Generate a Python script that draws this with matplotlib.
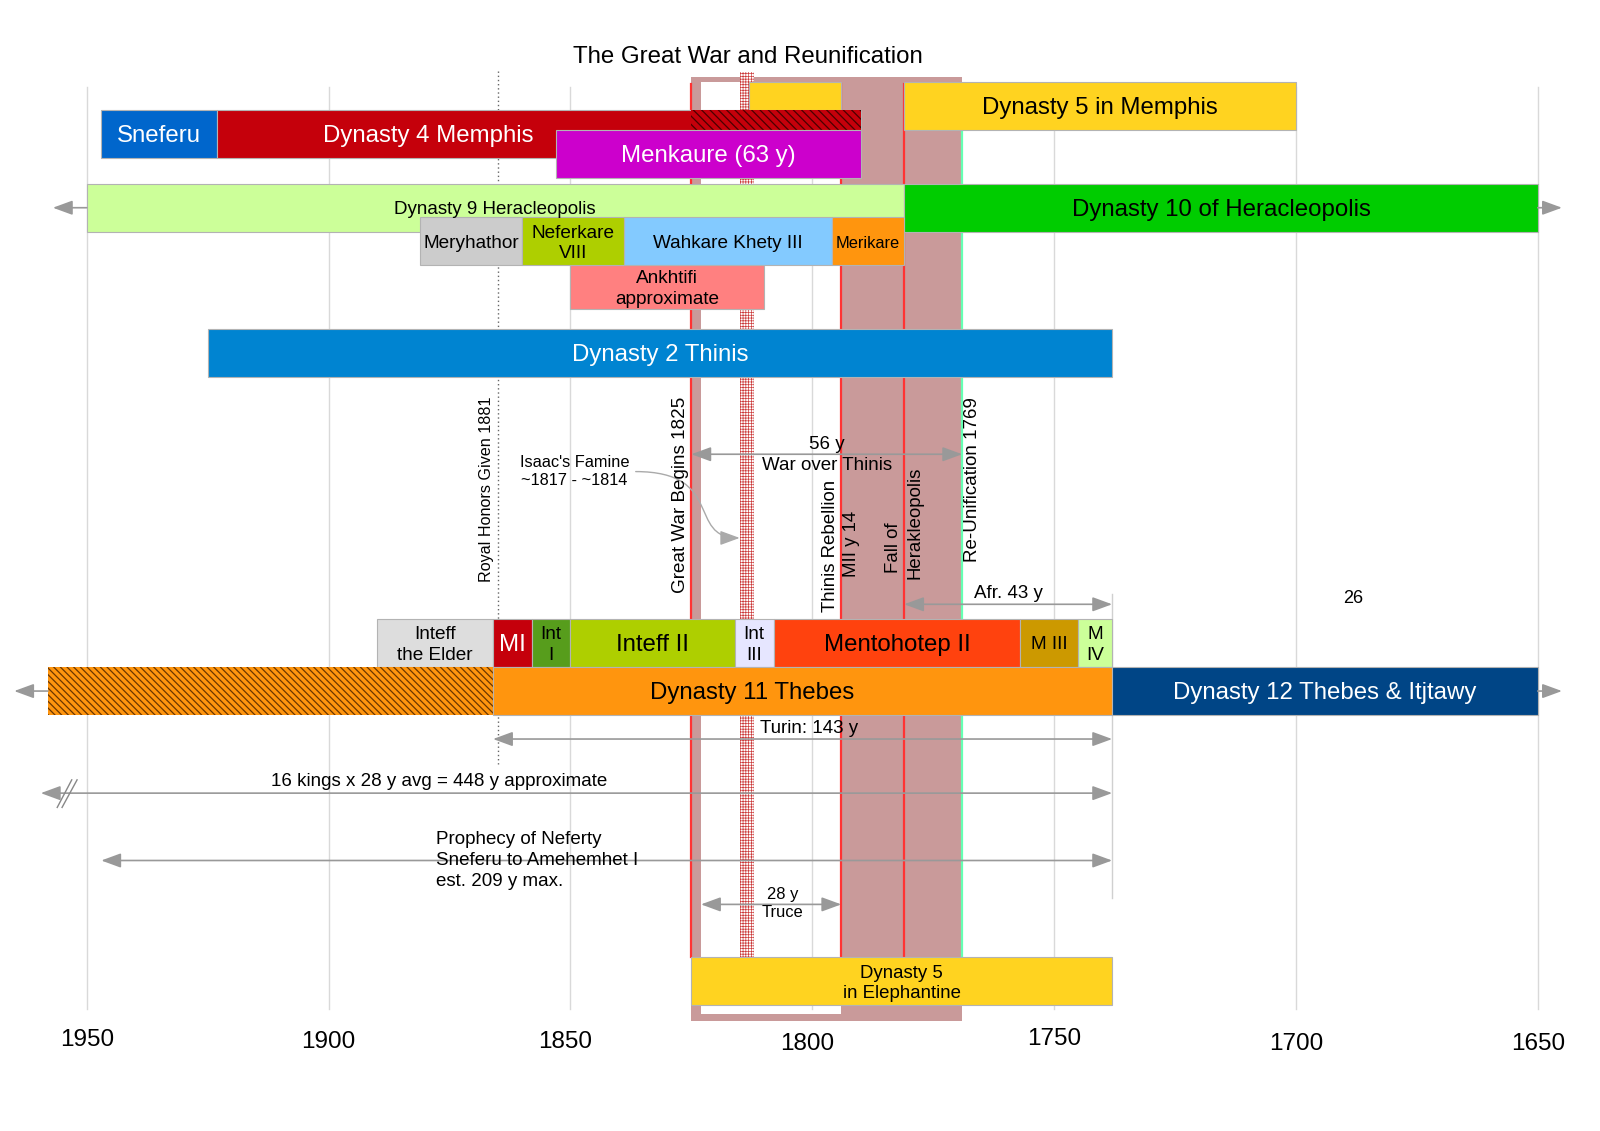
import matplotlib
matplotlib.use('Agg')
import matplotlib.pyplot as plt
from matplotlib.patches import Rectangle, FancyArrowPatch
from matplotlib.path import Path

plt.rcParams['font.family'] = ['Liberation Sans', 'DejaVu Sans']
plt.rcParams['hatch.linewidth'] = 0.9

# --- data (years BC, counted down to the right) ---
title = 'The Great War and Reunification'
tick_years = [1950, 1900, 1850, 1800, 1750, 1700, 1650]

top_names = ['', 'Dynasty 5 in Memphis']
top_from = [1813, 1781]
top_to = [1794, 1700]

d4_names = ['Sneferu', 'Dynasty 4 Memphis']
d4_from = [1947, 1923]
d4_to = [1923, 1790]
d4_hatch = (1825, 1790)

menkaure = ('Menkaure (63 y)', 1853, 1790)

d9_names = ['Dynasty 9 Heracleopolis', 'Dynasty 10 of Heracleopolis']
d9_from = [1950, 1781]
d9_to = [1781, 1650]

k9_names = ['Meryhathor', 'Neferkare\nVIII', 'Wahkare Khety III', 'Merikare']
k9_from = [1881, 1860, 1839, 1796]
k9_to = [1860, 1839, 1796, 1781]

ankhtifi = ('Ankhtifi\napproximate', 1850, 1810)
d2 = ('Dynasty 2 Thinis', 1925, 1738)

k11_names = ['Inteff\nthe Elder', 'MI', 'Int\nI', 'Inteff II', 'Int\nIII', 'Mentohotep II', 'M III', 'M\nIV']
k11_from = [1890, 1866, 1858, 1850, 1816, 1808, 1757, 1745]
k11_to = [1866, 1858, 1850, 1816, 1808, 1757, 1745, 1738]

d11_names = ['', 'Dynasty 11 Thebes', 'Dynasty 12 Thebes & Itjtawy']
d11_from = [1958, 1866, 1738]
d11_to = [1866, 1738, 1650]

elephantine = ('Dynasty 5\nin Elephantine', 1825, 1738)

war = (1825, 1769)
truce = (1823, 1794)
famine = (1815, 1812)
red_lines = [1825, 1794, 1781]
green_line = 1769
honors_line = 1865

# --- figure ---
fig = plt.figure(figsize=(16, 11.31), dpi=100)
ax = fig.add_axes([0, 0, 1, 1])
ax.set_xlim(1950 + 85 / 4.74, 1950 - (1568 - 85) / 4.74)
ax.set_ylim(1108, 0)
ax.axis('off')

GRAY_EDGE = '#b3b3b3'
ARROW = '#999999'
BIG = 17.3
MID = 13.7


def bar(od, do, y, h, color, text='', tc='black', fs=MID, tx=None, z=4, **kw):
    ax.add_patch(Rectangle((od, y), do - od, h, facecolor=color, edgecolor=GRAY_EDGE,
                           lw=0.8, zorder=z, **kw))
    if text:
        ax.text(tx if tx is not None else (od + do) / 2, y + h / 2 + 2, text, color=tc, fontsize=fs,
                ha='center', va='center', linespacing=1.3, zorder=z + 1)


def arrow(x1, x2, y, style='<|-|>', color=ARROW):
    ax.annotate('', xy=(x2, y), xytext=(x1, y), zorder=6,
                arrowprops=dict(arrowstyle=style + ',head_length=0.6,head_width=0.22',
                                color=color, lw=1.2, shrinkA=0, shrinkB=0, mutation_scale=20))


def label(x, y, s, fs=13.5, **kw):
    ax.text(x, y, s, fontsize=fs, ha=kw.pop('ha', 'center'), va='center', zorder=7, **kw)


# war background
ax.add_patch(Rectangle((war[0], 75), war[1] - war[0], 925, facecolor='#c99a9a', edgecolor='none', zorder=1))
ax.add_patch(Rectangle((truce[0], 80), truce[1] - truce[0], 913, facecolor='white', edgecolor='none', zorder=1.5))

# grid
for yr in tick_years:
    ax.plot([yr, yr], [85, 988], color='#d9d9d9', lw=1, zorder=2)
ax.plot([1738, 1738], [582, 880], color='#d0d0d0', lw=1, zorder=2)

# markers
for yr in red_lines:
    ax.plot([yr, yr], [82, 938], color='#ff3333', lw=1.6, zorder=3)
ax.plot([green_line, green_line], [127, 938], color='#66ffb3', lw=1.6, zorder=3)
ax.plot([honors_line, honors_line], [70, 748], color='#666666', lw=1, ls=(0, (1, 2)), zorder=3)
plt.rcParams['hatch.linewidth'] = 0.5
ax.add_patch(Rectangle((famine[0], 71), famine[1] - famine[0], 867, facecolor='white',
                       edgecolor='#cc3b3b', hatch='++++++', lw=0, zorder=3))
plt.rcParams['hatch.linewidth'] = 0.9

# title
label(1813.3, 56, title, BIG)

# top rows
bar(top_from[0], top_to[0], 80, 47, '#ffd320')
bar(top_from[1], top_to[1], 80, 47, '#ffd320', top_names[1], fs=BIG)
bar(d4_from[0], d4_to[0], 108, 47, '#0066cc', d4_names[0], 'white', BIG)
bar(d4_from[1], d4_to[1], 108, 47, '#c5000b')
ax.text(1879.3, 133, d4_names[1], color='white', fontsize=BIG, ha='center', va='center', zorder=5)
ax.add_patch(Rectangle((d4_hatch[0], 108), d4_hatch[1] - d4_hatch[0], 19, facecolor='#c5000b',
                       edgecolor='#4a0000', hatch='\\\\\\\\', lw=0, zorder=4.2))
bar(menkaure[1], menkaure[2], 127, 47, '#cc00cc', menkaure[0], 'white', BIG, z=4.5)

bar(d9_from[0], d9_to[0], 180, 47, '#ccff99', d9_names[0], fs=13.5, tx=1865.6)
bar(d9_from[1], d9_to[1], 180, 47, '#00cc00', d9_names[1], fs=BIG)
arrow(1950, 1957, 203.5, '-|>')
arrow(1650, 1645, 203.5, '-|>')

k9_colors = ['#cccccc', '#aecf00', '#83caff', '#ff950e']
k9_fs = [MID, MID, MID, 11.8]
for n, a, b, c, f in zip(k9_names, k9_from, k9_to, k9_colors, k9_fs):
    bar(a, b, 213, 47, c, n, fs=f, z=4.6)

bar(ankhtifi[1], ankhtifi[2], 260, 43, '#ff8080', ankhtifi[0])
bar(d2[1], d2[2], 322, 47, '#0084d1', d2[0], 'white', BIG)

# vertical labels
label(1867.3, 479, 'Royal Honors Given 1881', 11.6, rotation=90)
label(1827.2, 485, 'Great War Begins 1825', 13.6, rotation=90)
label(1796.2, 535, 'Thinis Rebellion', 13.4, rotation=90)
label(1791.8, 533, 'MII y 14', 13.4, rotation=90)
label(1783.1, 537, 'Fall of', 13.4, rotation=90)
label(1778.7, 512, 'Herakleopolis', 13.4, rotation=90)
label(1766.9, 470, 'Re-Unification 1769', 13.5, rotation=90)

# war span
arrow(war[0], war[1], 445)
label(1797.0, 435, '56 y')
label(1797.0, 456, 'War over Thinis')

# famine note with S-shaped pointer
label(1849.2, 462, "Isaac's Famine\n~1817 - ~1814", 11.8, linespacing=1.25)
s_path = Path([(1836.5, 462), (1818, 462), (1826, 527), (famine[0], 527)],
              [Path.MOVETO, Path.CURVE4, Path.CURVE4, Path.CURVE4])
ax.add_patch(FancyArrowPatch(path=s_path, arrowstyle='-|>,head_length=0.6,head_width=0.22',
                             mutation_scale=20, color='#aaaaaa', lw=1, zorder=6))

arrow(1781, 1738, 592)
label(1759.5, 581, 'Afr. 43 y')
label(1688.2, 586, '26', 13)

# dynasty 11 kings
k11_colors = ['#dddddd', '#c5000b', '#579d1c', '#aecf00', '#e6e6ff', '#ff420e', '#cc9900', '#ccff99']
k11_tc = ['black', 'white', 'black', 'black', 'black', 'black', 'black', 'black']
k11_fs = [MID, BIG, MID, BIG, MID, BIG, MID, MID]
for n, a, b, c, t, f in zip(k11_names, k11_from, k11_to, k11_colors, k11_tc, k11_fs):
    bar(a, b, 606, 47, c, n, t, f)

ax.add_patch(Rectangle((d11_from[0], 653), d11_to[0] - d11_from[0], 47, facecolor='#ff950e',
                       edgecolor='#6b3600', hatch='\\\\\\\\\\', lw=0, zorder=4))
bar(d11_from[1], d11_to[1], 653, 47, '#ff950e', d11_names[1], fs=BIG, tx=1812.4)
bar(d11_from[2], d11_to[2], 653, 47, '#004586', d11_names[2], 'white', BIG)
arrow(1958, 1965, 677, '-|>')
arrow(1650, 1645, 677, '-|>')

# spans below
arrow(1866, 1738, 724)
label(1800.6, 714, 'Turin: 143 y')

arrow(1959.5, 1738, 777)
label(1877.2, 766, '16 kings x 28 y avg = 448 y approximate')
ax.plot([1956.1, 1953.1], [791, 764], color='#888888', lw=1, zorder=6)
ax.plot([1955.1, 1952.0], [791, 764], color='#888888', lw=1, zorder=6)

arrow(1947, 1738, 843)
label(1877.8, 843, 'Prophecy of Neferty\nSneferu to Amehemhet I\nest. 209 y max.', ha='left',
      linespacing=1.33)

arrow(truce[0], truce[1], 886)
label(1806.1, 876, '28 y', 11.9)
label(1806.1, 894, 'Truce', 11.9)

bar(elephantine[1], elephantine[2], 938, 47, '#ffd320', elephantine[0], fs=13.4)

# year labels
tick_y = [1019, 1021, 1021, 1023, 1018, 1023, 1023]
tick_dx = [0, 0, 1, 1, 0, 0, 0]
for yr, ty, dx in zip(tick_years, tick_y, tick_dx):
    ax.text(yr + dx, ty, str(yr), fontsize=17.5, ha='center', va='center')

fig.savefig('out.png', dpi=100)
